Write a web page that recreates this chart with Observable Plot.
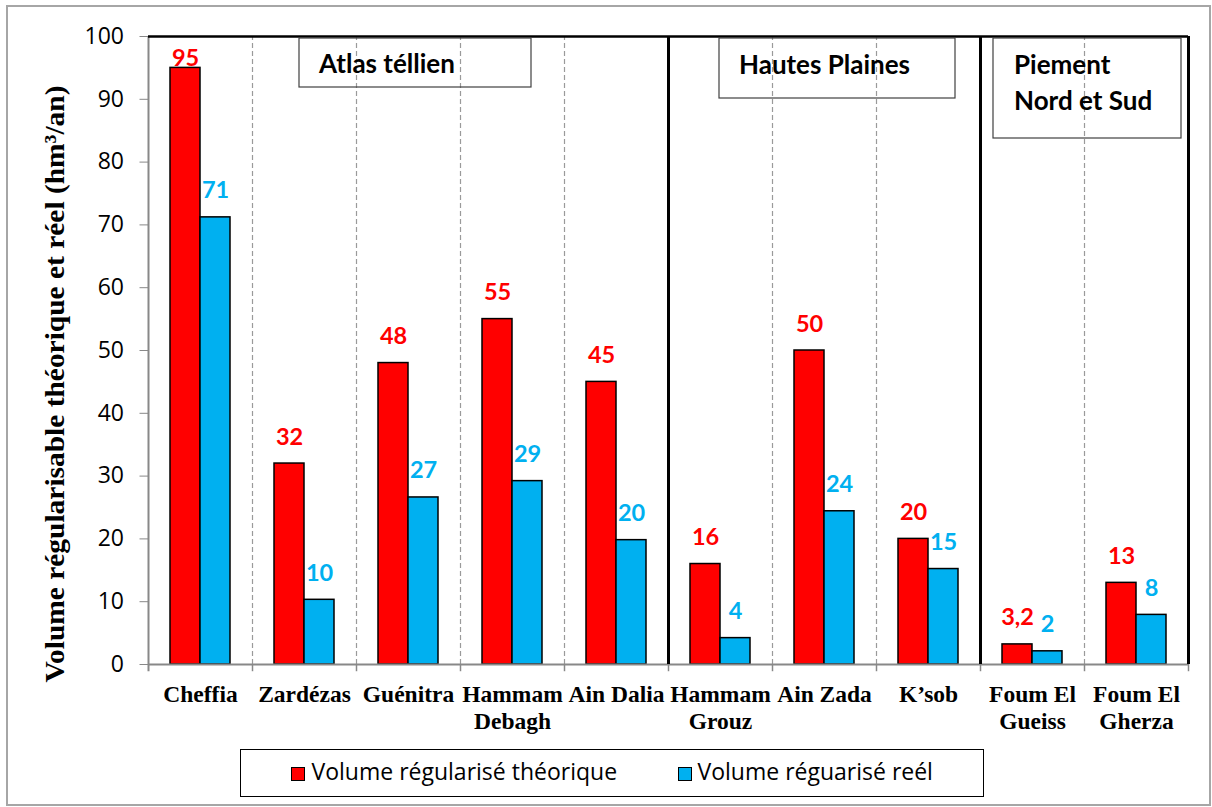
<!DOCTYPE html>
<html><head><meta charset="utf-8">
<script src="https://cdn.jsdelivr.net/npm/d3@7"></script>
<script src="https://cdn.jsdelivr.net/npm/@observablehq/plot@0.6"></script>
<style>
body{margin:0;background:#fff;}
#wrap{position:relative;width:1212px;height:807px;overflow:hidden;background:#fff;}
#frame{position:absolute;left:6px;top:5px;width:1205px;height:801px;border:2px solid #a6a6a6;box-sizing:border-box;}
#chart{position:absolute;left:0;top:0;}
#legend{position:absolute;left:240px;top:749px;width:744px;height:48px;border:1.5px solid #000;box-sizing:border-box;font-family:"Open Sans",sans-serif;font-size:23px;color:#000;}
#legend .sw{position:absolute;top:16.5px;width:14px;height:14px;border:1.5px solid #000;box-sizing:border-box;}
#legend .lt{position:absolute;top:10px;line-height:22px;white-space:nowrap;}
</style></head>
<body>
<div id="wrap"><div id="frame"></div><div id="chart"></div><div id="legend"></div></div>
<script>
const categories = ["Cheffia","Zardézas","Guénitra","Hammam Debagh","Ain Dalia","Hammam Grouz","Ain Zada","K’sob","Foum El Gueiss","Foum El Gherza"];
const tickLabels = ["Cheffia","Zardézas","Guénitra","Hammam\nDebagh","Ain Dalia","Hammam\nGrouz","Ain Zada","K’sob","Foum El\nGueiss","Foum El\nGherza"];
const theorique = [95,32,48,55,45,16,50,20,3.2,13];
const reel = [71.2,10.3,26.6,29.2,19.8,4.2,24.4,15.2,2.1,7.9];
const seriesNames = ["Volume régularisé théorique","Volume réguarisé reél"];
const seriesColors = ["#FF0000","#00B0F0"];
const regions = ["Atlas téllien","Hautes Plaines","Piement\nNord et Sud"];
const regionEnds = ["Ain Dalia","K’sob","Foum El Gherza"];
const yTicks = [0,10,20,30,40,50,60,70,80,90,100];
const yTitle = "Volume régularisable théorique et réel (hm³/an)";

const data = categories.map((c,i)=>({cat:c, theo:theorique[i], reel:reel[i]}));

const W = 1212, H = 745, mL = 148, mR = 24, mT = 36, mB = H - 664;
const bw = (W - mL - mR) / categories.length;
const barW = 30;
const sans = "Open Sans, sans-serif";
const serif = "Liberation Serif, Times New Roman, serif";
const fr = d => d.toLocaleString("fr-FR");

const chart = Plot.plot({
  width: W, height: H,
  marginLeft: mL, marginRight: mR, marginTop: mT, marginBottom: mB,
  style: {background:"transparent", overflow:"visible"},
  x: {type:"band", domain: categories, padding: 0},
  y: {domain:[0,100]},
  marks: [
    Plot.ruleX(categories, {x: d=>d, dx: bw/2, y1: 0, y2: 100, stroke:"#9a9a9a", strokeWidth:1.2, strokeDasharray:"5,3"}),
    Plot.barY(data, {x:"cat", y:"theo", fill:seriesColors[0], stroke:"#000", strokeWidth:1.5, insetLeft: bw/2 - barW, insetRight: bw/2}),
    Plot.barY(data, {x:"cat", y:"reel", fill:seriesColors[1], stroke:"#000", strokeWidth:1.5, insetLeft: bw/2, insetRight: bw/2 - barW}),
    Plot.ruleY([0], {stroke:"#888", strokeWidth:2}),
    Plot.ruleX(categories, {x: d=>d, dx: bw/2, y1: 0, y2: -1.15, stroke:"#888", strokeWidth:1.5}),
    Plot.ruleX([categories[0]], {x: d=>d, dx: -bw/2, y1: -1.15, y2: 100, stroke:"#888", strokeWidth:2}),
    Plot.ruleY([100], {stroke:"#000", strokeWidth:2.5}),
    Plot.ruleX(regionEnds, {x: d=>d, dx: bw/2, y1: 0, y2: 100, stroke:"#000", strokeWidth:3}),
    Plot.text(data.filter(d=>d.theo < 90), {x:"cat", y:"theo", text: d=>fr(d.theo), dx: -barW/2, dy: -19, lineAnchor:"bottom", fill:seriesColors[0], fontFamily:"Lato, sans-serif", fontWeight:"bold", fontSize:23.5}),
    Plot.text(data.filter(d=>d.theo >= 90), {x:"cat", y:"theo", text: d=>fr(d.theo), dx: -barW/2, dy: -1.5, lineAnchor:"bottom", fill:seriesColors[0], fontFamily:"Lato, sans-serif", fontWeight:"bold", fontSize:23.5}),
    Plot.text(data, {x:"cat", y:"reel", text: d=>String(Math.round(d.reel)), dx: barW/2, dy: -19, lineAnchor:"bottom", fill:seriesColors[1], fontFamily:"Lato, sans-serif", fontWeight:"bold", fontSize:23.5}),
    Plot.axisY({ticks: yTicks, tickSize: 8.5, tickPadding: 16, stroke:"#888", fill:"#000", fontSize: 23, fontFamily: sans, label: null}),
    Plot.axisX({tickSize: 0, tickPadding: 19, label: null, tickFormat: d => tickLabels[categories.indexOf(d)], fill:"#000", fontFamily: serif, fontWeight:"bold", fontSize: 23.5, lineHeight: 1.13}),
    Plot.text([yTitle], {frameAnchor:"left", textAnchor:"middle", rotate:-90, dx:-93, dy:33.5, text: d=>d, fill:"#000", fontFamily: serif, fontWeight:"bold", fontSize: 28, lineAnchor:"middle"})
  ]
});
document.getElementById("chart").appendChild(chart);

// stretch the y title to the reference length
d3.select(chart).selectAll("text").filter(function(){ return this.textContent === yTitle; })
  .attr("textLength", 597).attr("lengthAdjust", "spacingAndGlyphs");

// region annotation boxes
const boxLayout = [
  {x:299, y:38, w:232, h:49, tx:319, base:[73]},
  {x:719, y:38, w:236, h:60, tx:739, base:[74]},
  {x:993, y:38, w:188, h:100, tx:1014, base:[74,110]}
];
const g = d3.select(chart).append("g").attr("text-anchor","start");
regions.forEach((r,i)=>{
  const b = boxLayout[i];
  g.append("rect").attr("x",b.x).attr("y",b.y).attr("width",b.w).attr("height",b.h)
    .attr("fill","none").attr("stroke","#404040").attr("stroke-width",1.2);
  r.split("\n").forEach((line,j)=>{
    g.append("text").attr("x",b.tx).attr("y",b.base[j]).attr("text-anchor","start").text(line)
      .attr("font-family","Lato, sans-serif").attr("font-weight","bold").attr("font-size",26).attr("fill","#000");
  });
});

// legend
const legend = document.getElementById("legend");
const legendPos = [{sw:49.5, tx:70.5},{sw:436.5, tx:456.5}];
seriesNames.forEach((name,i)=>{
  const sw = document.createElement("div");
  sw.className = "sw"; sw.style.left = legendPos[i].sw + "px"; sw.style.background = seriesColors[i];
  const t = document.createElement("div");
  t.className = "lt"; t.style.left = legendPos[i].tx + "px"; t.textContent = name;
  legend.appendChild(sw); legend.appendChild(t);
});
</script>
</body></html>
